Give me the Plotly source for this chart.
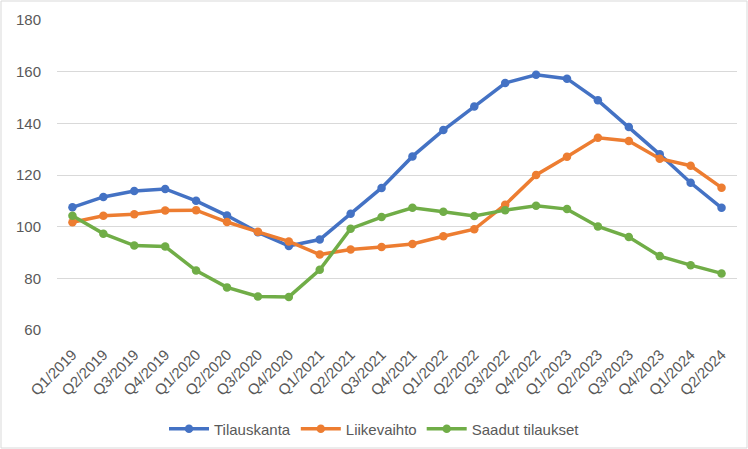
import plotly.graph_objects as go

quarters = ["Q1/2019","Q2/2019","Q3/2019","Q4/2019","Q1/2020","Q2/2020","Q3/2020","Q4/2020",
            "Q1/2021","Q2/2021","Q3/2021","Q4/2021","Q1/2022","Q2/2022","Q3/2022","Q4/2022",
            "Q1/2023","Q2/2023","Q3/2023","Q4/2023","Q1/2024","Q2/2024"]
tilauskanta = [107.5,111.5,113.8,114.6,110.0,104.3,97.8,92.5,95.0,105.0,115.0,127.2,137.4,146.5,
               155.6,158.8,157.3,148.9,138.6,128.0,117.0,107.3]
liikevaihto = [101.7,104.2,104.8,106.3,106.4,101.8,98.0,94.3,89.2,91.2,92.1,93.3,96.3,99.0,
               108.5,120.0,127.1,134.4,133.2,126.3,123.6,115.1]
saadut = [104.2,97.3,92.7,92.3,83.0,76.5,73.0,72.8,83.3,99.2,103.7,107.3,105.8,104.1,
          106.4,108.1,106.8,100.1,96.0,88.6,85.1,81.9]

series = [("Tilauskanta", tilauskanta, "#4472C4"),
          ("Liikevaihto", liikevaihto, "#ED7D31"),
          ("Saadut tilaukset", saadut, "#70AD47")]

fig = go.Figure()
for name, vals, col in series:
    fig.add_trace(go.Scatter(x=quarters, y=vals, name=name, mode="lines+markers",
                             line=dict(color=col, width=3.5),
                             marker=dict(color=col, size=8.5)))

font = "Liberation Sans"
fig.update_layout(
    width=748, height=449, autosize=False,
    margin=dict(l=57, r=11, t=20, b=119, autoexpand=False),
    plot_bgcolor="white", paper_bgcolor="white",
    font=dict(family=font, size=15, color="#595959"),
    xaxis=dict(type="category", range=[-0.5, 21.5], tickangle=-45, showgrid=False,
               showline=False, ticks="", automargin=False, ticklabelstandoff=12,
               tickfont=dict(size=15, color="#595959")),
    yaxis=dict(range=[60, 180], dtick=20, showgrid=True, gridcolor="#D9D9D9", gridwidth=1,
               zeroline=False, showline=False, ticks="", automargin=False, ticklabelstandoff=15,
               tickfont=dict(size=15, color="#595959")),
    legend=dict(orientation="h", x=(164 - 57) / 680, xanchor="left",
                y=(330 - 429) / 310, yanchor="middle",
                font=dict(size=15, color="#595959"), itemwidth=40),
    shapes=[dict(type="rect", xref="paper", yref="paper",
                 x0=(1-57)/680, x1=(747-57)/680, y0=(330-448)/310, y1=(330-1)/310,
                 line=dict(color="#D9D9D9", width=1))],
)
fig.write_html("out.html", config={"displayModeBar": False},
               post_script="document.body.style.margin='0';document.body.style.overflow='hidden';")
